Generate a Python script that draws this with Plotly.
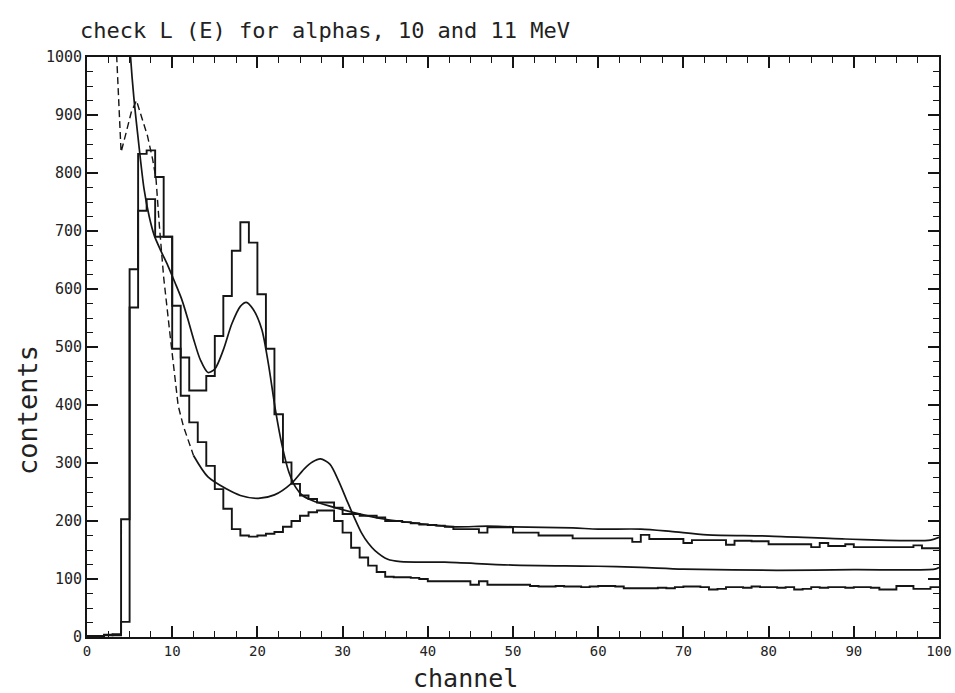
import numpy as np
import plotly.graph_objects as go

# ---- data ----
bin_edges = list(range(0, 101))  # channel bins 0..100

# upper histogram (peak near channel 18-19)
hist_a = [
    2, 1, 3, 5, 26, 568, 735, 755, 690, 690,
    497, 482, 425, 425, 450, 519, 588, 666, 715, 680,
    591, 497, 384, 301, 264, 244, 238, 232, 232, 223,
    212, 212, 209, 209, 206, 200, 200, 198, 196, 194,
    193, 192, 190, 186, 186, 186, 180, 189, 189, 189,
    180, 180, 180, 175, 175, 175, 175, 170, 170, 170,
    170, 170, 170, 170, 164, 176, 169, 169, 169, 169,
    162, 167, 167, 167, 167, 159, 166, 166, 165, 165,
    160, 160, 160, 160, 160, 155, 162, 157, 157, 160,
    155, 155, 155, 155, 155, 155, 155, 158, 153, 153,
]

# lower histogram (peak near channel 27-28)
hist_b = [
    0, 2, 4, 3, 203, 634, 833, 839, 793, 690,
    571, 416, 370, 336, 295, 255, 221, 186, 175, 173,
    175, 178, 181, 190, 200, 209, 215, 218, 218, 200,
    180, 154, 137, 123, 112, 104, 103, 103, 102, 100,
    96, 96, 96, 96, 96, 90, 96, 90, 90, 90,
    90, 90, 88, 87, 87, 88, 87, 87, 86, 87,
    88, 88, 87, 84, 84, 84, 84, 85, 84, 86,
    87, 87, 86, 82, 83, 86, 86, 85, 87, 86,
    86, 85, 86, 82, 83, 86, 85, 86, 86, 85,
    86, 86, 85, 82, 82, 88, 88, 83, 83, 86,
]

# fitted curve for upper histogram
fit_a_x = [4.9, 5.1, 5.5, 6.0, 6.7, 7.3, 7.9, 8.7, 9.5, 10.3, 11.1, 11.8, 12.5,
           13.3, 14.2, 15.0, 16.0, 17.0, 18.0, 18.7, 19.5, 20.5, 21.3, 22.1,
           22.9, 23.7, 24.5, 25.3, 26.5, 28.4, 31.2, 35, 40, 43, 47, 50, 57,
           60, 65, 68.5, 72.8, 80, 89, 99, 100]
fit_a_y = [1060, 1003, 930, 860, 772, 725, 692, 665, 640, 612, 583, 550, 514,
           478, 456, 462, 495, 540, 570, 577, 565, 531, 470, 393,
           330, 284, 258, 244, 235, 226, 215, 203, 194, 190, 191, 190, 188,
           186, 186, 182, 176, 174, 169, 167, 172]

# fitted curve for lower histogram: faint (dashed) low-channel part, then solid
fit_b_low_x = [3.3, 3.7, 4.0, 4.6, 5.2, 5.8, 6.5, 7.1, 7.7, 8.1, 8.5, 9.0, 9.8,
               10.7, 11.3, 12.5]
fit_b_low_y = [1060, 930, 836, 870, 905, 925, 893, 864, 824, 790, 708, 620, 514,
               399, 364, 313]
fit_b_x = [12.5, 14.2, 16.4, 18.0, 20.1, 22.0, 24.0, 25.5, 26.5, 27.4, 28.5,
           29.5, 30.6, 31.4, 32.2, 33.0, 33.8, 35.3, 36.8, 42, 50, 60, 65, 70,
           81, 90, 99.5, 100]
fit_b_y = [313, 276, 255, 244, 239, 245, 265, 290, 302, 307, 298,
           270, 232, 205, 180, 162, 149, 134, 130, 129, 124, 122, 120, 117,
           115, 116, 117, 120]

title_text = "check L (E) for alphas, 10 and 11 MeV"
x_title = "channel"
y_title = "contents"

INK = "#151515"
MONO = "DejaVu Sans Mono"

fig = go.Figure()


def hist_trace(values):
    return go.Scatter(
        x=bin_edges, y=list(values) + [values[-1]],
        mode="lines", line=dict(shape="hv", color=INK, width=1.9),
        showlegend=False, hoverinfo="skip",
    )


fig.add_trace(hist_trace(hist_a))
fig.add_trace(hist_trace(hist_b))
fig.add_trace(go.Scatter(x=fit_a_x, y=fit_a_y, mode="lines",
                         line=dict(shape="spline", smoothing=0.8, color=INK, width=1.7),
                         showlegend=False, hoverinfo="skip"))
fig.add_trace(go.Scatter(x=fit_b_low_x, y=fit_b_low_y, mode="lines",
                         line=dict(shape="linear", color=INK, width=1.4, dash="7px,4px"),
                         showlegend=False, hoverinfo="skip"))
fig.add_trace(go.Scatter(x=fit_b_x, y=fit_b_y, mode="lines",
                         line=dict(shape="spline", smoothing=0.8, color=INK, width=1.7),
                         showlegend=False, hoverinfo="skip"))

axis_common = dict(
    ticks="inside", tickwidth=1.5, tickcolor=INK,
    showline=True, linewidth=2, linecolor=INK, mirror="allticks",
    showgrid=False, zeroline=False, automargin=False,
)

fig.update_xaxes(range=[0, 100], tick0=0, dtick=10, ticklen=11,
                 tickfont=dict(family=MONO, size=14, color="#222"),
                 minor=dict(dtick=2.5, ticks="inside", ticklen=6, tickwidth=1.2,
                            tickcolor=INK, showgrid=False),
                 **axis_common)
fig.update_yaxes(range=[0, 1000], tick0=0, dtick=100, ticklen=11,
                 tickfont=dict(family=MONO, size=15, color="#222"),
                 minor=dict(dtick=25, ticks="inside", ticklen=6, tickwidth=1.2,
                            tickcolor=INK, showgrid=False),
                 **axis_common)

fig.update_layout(
    width=955, height=693,
    margin=dict(l=87, r=16, t=57, b=56),
    paper_bgcolor="white", plot_bgcolor="white",
    title=dict(text=title_text, x=80 / 955, xanchor="left", xref="container",
               y=1 - 30 / 693, yanchor="middle", yref="container",
               font=dict(family=MONO, size=22, color="#222")),
    annotations=[
        dict(text=x_title, xref="paper", yref="paper",
             x=(465 - 87) / 852, y=(637 - 678) / 580,
             xanchor="center", yanchor="middle", showarrow=False,
             font=dict(family=MONO, size=25, color="#222")),
        dict(text=y_title, xref="paper", yref="paper",
             x=(27 - 87) / 852, y=(637 - 410) / 580, textangle=-90,
             xanchor="center", yanchor="middle", showarrow=False,
             font=dict(family=MONO, size=27, color="#222")),
    ],
)

fig.write_html("out.html")
